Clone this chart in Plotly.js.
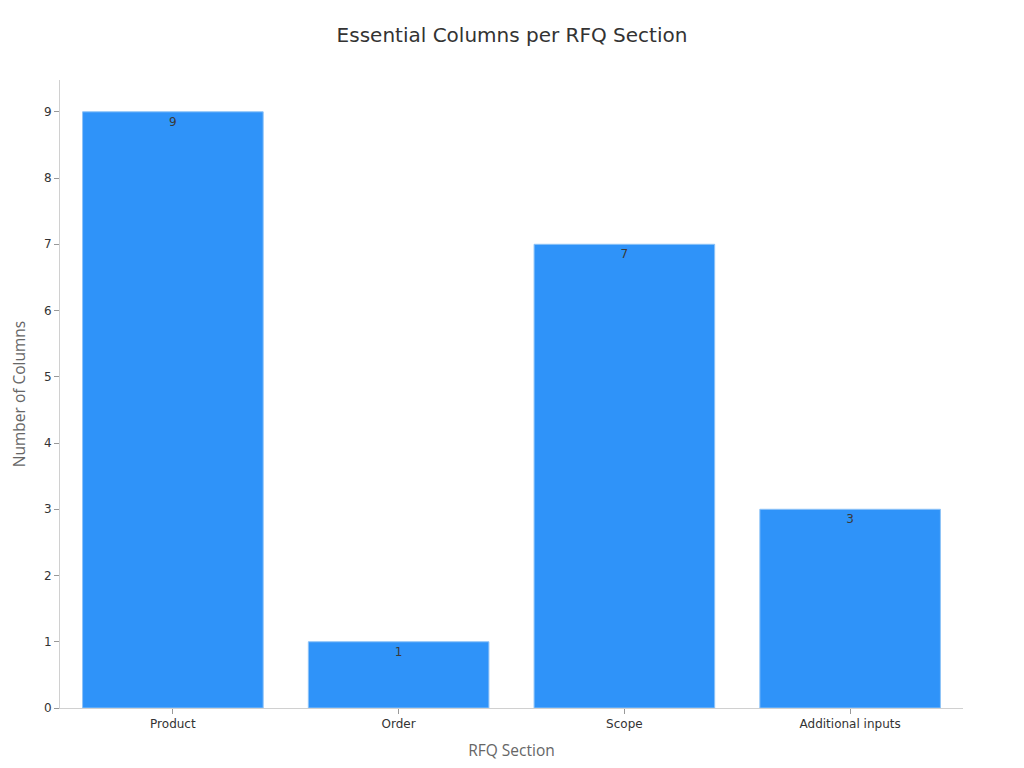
<!DOCTYPE html>
<html>
<head>
<meta charset="utf-8">
<script src="https://cdn.plot.ly/plotly-3.0.1.min.js"></script>
<style>
  html, body { margin: 0; padding: 0; background: #fff; }
  #chart { width: 1024px; height: 768px; }
</style>
</head>
<body>
<div id="chart"></div>
<script>
/* ─── Data ─────────────────────────────────────────────────────────────── */
const sections = ["Product", "Order", "Scope", "Additional inputs"];
const columnCounts = [9, 1, 7, 3];

const trace = {
  type: "bar",
  x: sections,
  y: columnCounts,
  text: columnCounts.map(String),
  textposition: "inside",
  insidetextanchor: "end",
  textfont: { family: "DejaVu Sans", size: 12, color: "#3a3a3a" },
  marker: { color: "#2F93F9", line: { color: "#8EC3F7", width: 1 } },
  hoverinfo: "x+y",
};

const layout = {
  width: 1024,
  height: 768,
  paper_bgcolor: "#fff",
  plot_bgcolor: "#fff",
  margin: { l: 60, r: 61, t: 80, b: 60 },
  bargap: 0.2,
  showlegend: false,
  font: { family: "DejaVu Sans", color: "#333" },
  title: {
    text: "Essential Columns per RFQ Section",
    x: 0.5, xanchor: "center", y: 0.955, yanchor: "middle",
    font: { family: "DejaVu Sans", size: 20, color: "#333" },
  },
  xaxis: {
    title: { text: "RFQ Section", font: { family: "Open Sans", size: 15.5, color: "#666" }, standoff: 14 },
    tickfont: { family: "DejaVu Sans", size: 12, color: "#333" },
    showline: true, linecolor: "#d0d0d0", linewidth: 1,
    ticks: "outside", ticklen: 5, tickcolor: "#999",
    showgrid: false, zeroline: false,
  },
  yaxis: {
    title: { text: "Number of Columns", font: { family: "Open Sans", size: 15.5, color: "#666" }, standoff: 14 },
    tickfont: { family: "DejaVu Sans", size: 12, color: "#333" },
    range: [0, 9.48], dtick: 1,
    showline: true, linecolor: "#d0d0d0", linewidth: 1,
    ticks: "outside", ticklen: 5, tickcolor: "#999",
    showgrid: false, zeroline: false,
  },
};

Plotly.newPlot("chart", [trace], layout, { displayModeBar: false, responsive: false });
</script>
</body>
</html>
